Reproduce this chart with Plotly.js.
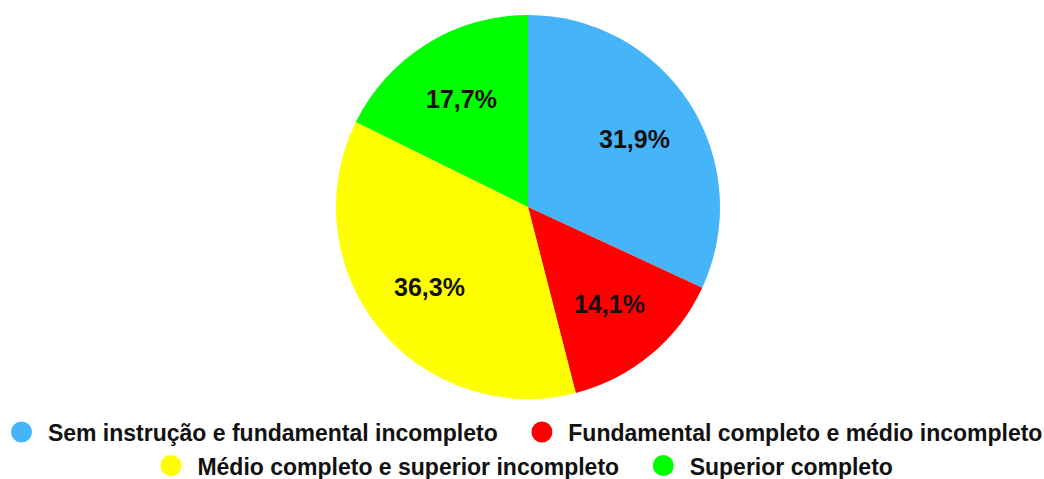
<!DOCTYPE html>
<html>
<head>
<meta charset="utf-8">
<script src="https://cdn.plot.ly/plotly-3.0.1.min.js"></script>
<style>
  html, body { margin: 0; padding: 0; background: #fff; }
  #chart { width: 1044px; height: 479px; }
</style>
</head>
<body>
<div id="chart"></div>
<script>
// Escolaridade: share of each level (%)
const categories = [
  'Sem instrução e fundamental incompleto',
  'Fundamental completo e médio incompleto',
  'Médio completo e superior incompleto',
  'Superior completo'
];
const shares = [31.9, 14.1, 36.3, 17.7];
const colors = ['#46B4F8', '#FF0000', '#FFFF00', '#00FF00'];
// legend row for each category
const legendRows = ['legend', 'legend', 'legend2', 'legend2'];

const FONT = '"Liberation Sans", Arial, sans-serif';
const W = 1044, H = 479;

const pieDomain = { x: [0.3218, 0.6897], y: [0.1670, 0.9687] };

const pie = {
  type: 'pie',
  labels: categories,
  values: shares,
  textinfo: 'none',
  marker: { colors: colors, line: { width: 0 } },
  sort: false,
  direction: 'clockwise',
  rotation: 0,
  showlegend: false,
  hoverinfo: 'label+percent',
  domain: pieDomain
};

// Percentage labels, placed along each slice's middle angle
const fmt = v => v.toFixed(1).replace('.', ',') + '%';
const total = shares.reduce((a, b) => a + b, 0);
const cx = (pieDomain.x[0] + pieDomain.x[1]) / 2;
const cy = (pieDomain.y[0] + pieDomain.y[1]) / 2;
const radiusPx = Math.min((pieDomain.x[1] - pieDomain.x[0]) * W, (pieDomain.y[1] - pieDomain.y[0]) * H) / 2;
const labelR = 0.66 * radiusPx;
let cum = 0;
const annotations = shares.map(v => {
  const mid = (cum + v / 2) / total * 2 * Math.PI;
  cum += v;
  return {
    xref: 'paper', yref: 'paper',
    x: cx + labelR * Math.sin(mid) / W,
    y: cy + labelR * Math.cos(mid) / H,
    text: fmt(v),
    showarrow: false,
    xanchor: 'center', yanchor: 'middle',
    font: { family: FONT, size: 25, color: '#111', weight: 'bold' }
  };
});

// Legend entries with round swatches
const NBSP = '\u00A0';
const legendTraces = categories.map((name, i) => ({
  type: 'scatter',
  mode: 'markers',
  x: [null], y: [null],
  name: NBSP + name + (i % 2 === 0 ? NBSP.repeat(3) : ''),
  legend: legendRows[i],
  marker: { symbol: 'circle', size: 16, color: colors[i], line: { color: colors[i], width: 5 } },
  hoverinfo: 'skip'
}));

const legendStyle = {
  orientation: 'h',
  xanchor: 'center',
  yanchor: 'middle',
  x: 0.5024,
  itemwidth: 30,
  font: { family: FONT, size: 23, color: '#111', weight: 'bold' },
  bgcolor: 'rgba(0,0,0,0)',
  borderwidth: 0
};

const layout = {
  width: W,
  height: H,
  margin: { l: 0, r: 0, t: 0, b: 0, autoexpand: false },
  paper_bgcolor: '#fff',
  plot_bgcolor: '#fff',
  xaxis: { visible: false },
  yaxis: { visible: false },
  annotations: annotations,
  legend: Object.assign({}, legendStyle, { y: 0.098 }),
  legend2: Object.assign({}, legendStyle, { y: 0.028 })
};

Plotly.newPlot('chart', [pie].concat(legendTraces), layout, { displayModeBar: false, staticPlot: true });
</script>
</body>
</html>
